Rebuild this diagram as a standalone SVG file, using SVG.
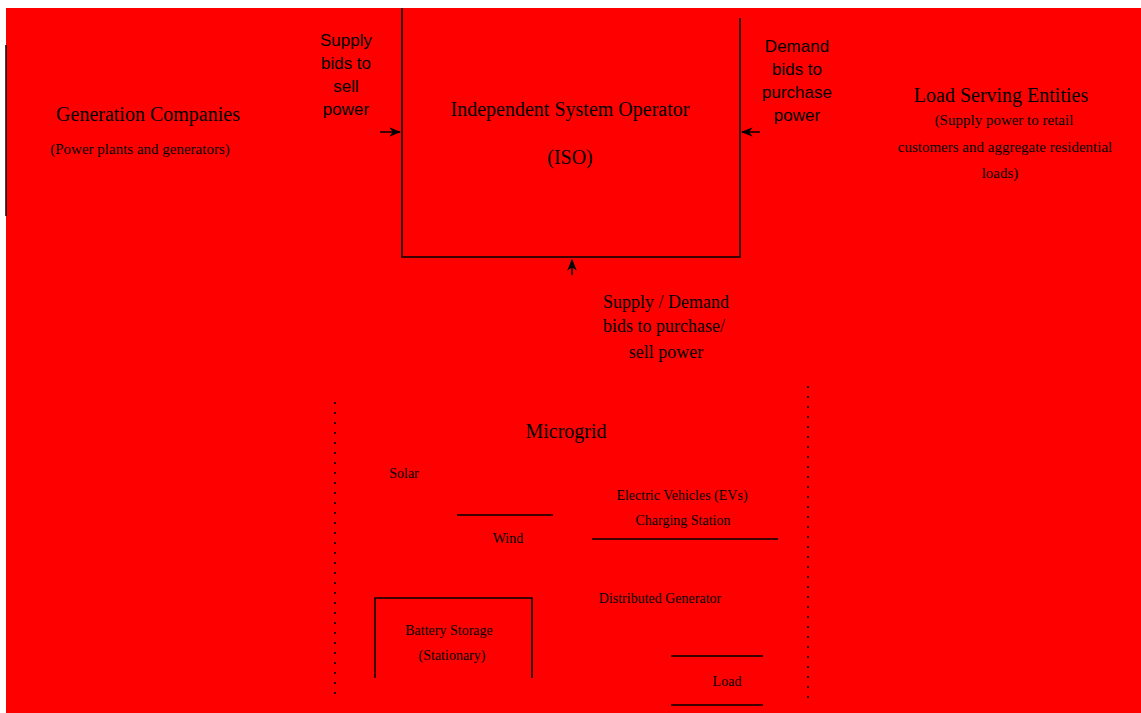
<svg xmlns="http://www.w3.org/2000/svg" width="1141" height="713" viewBox="0 0 1141 713">
<defs>
<marker id="arr" viewBox="0 0 10 10" refX="9" refY="5" markerWidth="8" markerHeight="8" orient="auto-start-reverse">
<path d="M0,1 L10,5 L0,9 L3,5 Z" fill="#000"/>
</marker>
<style>
.ln{stroke:#000;stroke-width:1.5;fill:none}
.dash{stroke:#000;stroke-width:1.5;fill:none;stroke-dasharray:2 8}
.ttl{font-family:"Liberation Serif",serif;font-size:20px;fill:#000;text-anchor:middle}
.sub{font-family:"Liberation Serif",serif;font-size:15px;fill:#000;text-anchor:middle}
.lbl{font-family:"Liberation Sans",sans-serif;font-size:17px;fill:#000;text-anchor:middle}
.sm{font-family:"Liberation Serif",serif;font-size:14px;fill:#000;text-anchor:middle}
</style>
</defs>
<rect x="0" y="0" width="1141" height="713" fill="#fff"/>
<rect x="6" y="8" width="1135" height="705" fill="#ff0000"/>

<g id="connectors">
<line class="ln" x1="380" y1="132" x2="400" y2="132" marker-end="url(#arr)"/>
<line class="ln" x1="760" y1="132" x2="742" y2="132" marker-end="url(#arr)"/>
<line class="ln" x1="572" y1="275" x2="572" y2="260" marker-end="url(#arr)"/>
<text class="lbl" x="346" y="46">Supply</text>
<text class="lbl" x="346" y="69">bids to</text>
<text class="lbl" x="346" y="92">sell</text>
<text class="lbl" x="346" y="115">power</text>
<text class="lbl" x="797" y="52">Demand</text>
<text class="lbl" x="797" y="75">bids to</text>
<text class="lbl" x="797" y="98">purchase</text>
<text class="lbl" x="797" y="121">power</text>
<text class="ttl" x="666" y="308" style="font-size:18px">Supply / Demand</text>
<text class="ttl" x="664" y="332" style="font-size:18px">bids to purchase/</text>
<text class="ttl" x="666" y="358" style="font-size:18px">sell power</text>
</g>

<g id="gencos">
<line class="ln" x1="6" y1="45" x2="6" y2="216"/>
<text class="ttl" x="148" y="121">Generation Companies</text>
<text class="sub" x="140" y="154">(Power plants and generators)</text>
</g>

<g id="iso">
<path class="ln" d="M402,8 V257 H740 V18"/>
<text class="ttl" x="570" y="116">Independent System Operator</text>
<text class="ttl" x="570" y="164">(ISO)</text>
</g>

<g id="lse">
<text class="ttl" x="1001" y="102">Load Serving Entities</text>
<text class="sub" x="1004" y="125">(Supply power to retail</text>
<text class="sub" x="1005" y="152">customers and aggregate residential</text>
<text class="sub" x="1000" y="178">loads)</text>
</g>

<g id="microgrid">
<line class="dash" x1="335" y1="402" x2="335" y2="700"/>
<line class="dash" x1="808" y1="386" x2="808" y2="700"/>
<text class="ttl" x="566" y="438">Microgrid</text>
</g>

<g id="solar">
<text class="sm" x="404" y="478">Solar</text>
<line class="ln" x1="457" y1="515" x2="553" y2="515"/>
</g>

<g id="wind">
<text class="sm" x="508" y="543">Wind</text>
</g>

<g id="ev">
<text class="sm" x="682" y="500">Electric Vehicles (EVs)</text>
<text class="sm" x="683" y="525">Charging Station</text>
<line class="ln" x1="592" y1="539" x2="778" y2="539"/>
</g>

<g id="battery">
<path class="ln" d="M375,678 V598 H532 V678"/>
<text class="sm" x="449" y="635">Battery Storage</text>
<text class="sm" x="452" y="660">(Stationary)</text>
</g>

<g id="dg">
<text class="sm" x="660" y="603">Distributed Generator</text>
</g>

<g id="load">
<line class="ln" x1="671" y1="656" x2="763" y2="656"/>
<line class="ln" x1="671" y1="705" x2="763" y2="705"/>
<text class="sm" x="727" y="686">Load</text>
</g>
</svg>
